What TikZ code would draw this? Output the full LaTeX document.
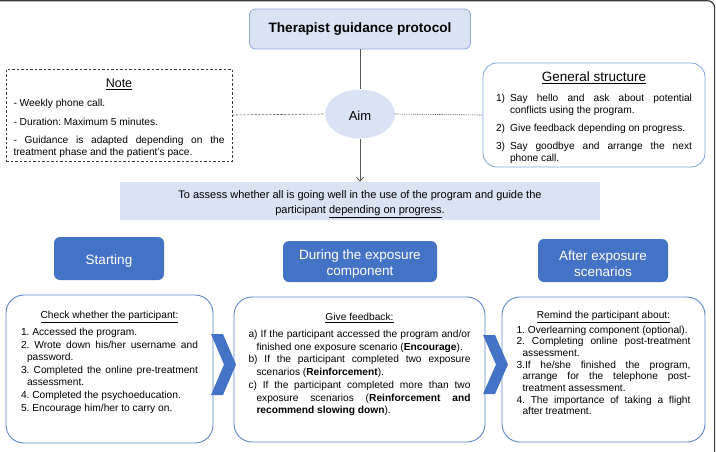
\documentclass[tikz,border=0pt]{standalone}
\usepackage{fontspec}
\setmainfont{Liberation Sans}
\usetikzlibrary{shapes.geometric,arrows.meta}
\definecolor{lightfill}{HTML}{DAE3F3}
\definecolor{titleborder}{HTML}{8FAADC}
\definecolor{hdr}{HTML}{4472C4}
\definecolor{boxline}{HTML}{5B84CB}
\definecolor{gsline}{HTML}{7EA3DA}
\definecolor{framecol}{HTML}{3A3A3A}
\definecolor{conncol}{HTML}{555555}
\newcommand{\bodysetup}[1]{\fontsize{10.2}{#1}\selectfont\frenchspacing\hyphenpenalty=10000 \tolerance=9999 \parindent=0pt \parskip=0pt}
\newcommand{\hitem}[2][6pt]{\par\hangindent=#1\hangafter=1\noindent #2}
\newcommand{\shiftbox}[4]{\parbox[c][#1][c]{#2}{\centering\vspace*{#3}#4\par}}
\tikzset{
  titlebox/.style={fill=lightfill, draw=titleborder, line width=0.8pt, rounded corners=6pt, inner sep=0pt,
    minimum width=221pt, minimum height=40pt, font=\fontsize{13.6}{16}\selectfont\bfseries},
  aimshape/.style={ellipse, fill=lightfill, inner sep=0pt, minimum width=70pt, minimum height=49pt,
    font=\fontsize{13}{16}\selectfont},
  notebox/.style={draw=framecol, dashed, dash pattern=on 2.5pt off 2pt, line width=0.7pt, inner sep=0pt,
    minimum width=226pt, minimum height=92pt},
  gsbox/.style={draw=gsline, line width=0.8pt, rounded corners=14pt, inner sep=0pt,
    minimum width=222pt, minimum height=104pt},
  stmtbox/.style={fill=lightfill, inner sep=0pt, font=\fontsize{11}{15}\selectfont},
  hdrbox/.style={fill=hdr, rounded corners=6pt, text=white, inner sep=0pt,
    font=\fontsize{13.5}{16}\selectfont},
  cbox/.style={draw=boxline, line width=0.9pt, rounded corners=18pt, inner sep=0pt},
  conn/.style={draw=conncol, line width=0.8pt},
  dashconn/.style={draw=conncol, line width=0.6pt, dash pattern=on 2.2pt off 1.5pt},
  dotconn/.style={draw=conncol, line width=0.6pt, dash pattern=on 1.2pt off 1pt},
  chev/.style={fill=hdr, draw=none}
}
\begin{document}
\begin{tikzpicture}[x=1pt,y=-1pt]
\useasboundingbox (0,0) rectangle (716,451);
% outer frame (partly visible)
\draw[framecol, line width=1.2pt, rounded corners=7pt] (-5,0.7) -- (714.6,0.7) -- (714.6,460);

% top part
\node[titlebox] (title) at (360,29) {Therapist guidance protocol};
\node[aimshape] (aim) at (360,114) {\shiftbox{20pt}{40pt}{3pt}{Aim}};
\node[notebox] (note) at (119,115) {\parbox[c][92pt][t]{211pt}{\bodysetup{12}%
  \vspace*{10pt}{\centering\fontsize{12.5}{14}\selectfont\underline{Note}\par}%
  \vspace{7pt}%
  - Weekly phone call.\par\vspace{6.5pt}
  - Duration: Maximum 5 minutes.\par\vspace{6.5pt}
  - Guidance is adapted depending on the\linebreak treatment phase and the patient’s pace.\par}};
\node[gsbox] (gs) at (594,115) {\parbox[c][104pt][t]{196pt}{\bodysetup{12}%
  \vspace*{9pt}{\centering\fontsize{13.5}{15}\selectfont\underline{General structure}\par}%
  \vspace{8pt}%
  \hitem[14pt]{1)\hspace{5pt}Say hello and ask about potential\linebreak conflicts using the program.}\par\vspace{6pt}
  \hitem[14pt]{2)\hspace{5pt}Give feedback depending on progress.}\par\vspace{6pt}
  \hitem[14pt]{3)\hspace{5pt}Say goodbye and arrange the next\linebreak phone call.}\par}};
\node[stmtbox] (stmt) at (360,201) {\shiftbox{38pt}{480pt}{7pt}{To assess whether all is going well in the use of the program and guide the\\
  participant \underline{depending on progress}.}};

\draw[conn] (title.south) -- (aim.north);
\draw[conn, -{Straight Barb[length=4pt,width=7pt]}] (aim.south) -- (stmt.north);
\draw[dashconn] (note.east) -- (aim.west);
\draw[dotconn] (aim.east) -- (gs.west);

% headers
\node[hdrbox] (h1) at (109,258.5) {\shiftbox{43pt}{110pt}{6pt}{Starting}};
\node[hdrbox] (h2) at (360,261.5) {\shiftbox{41pt}{154pt}{6pt}{During the exposure\\component}};
\node[hdrbox] (h3) at (603,260.5) {\shiftbox{43pt}{130pt}{6pt}{After exposure\\scenarios}};

% content boxes
\node[cbox, minimum width=207pt, minimum height=148pt] (b1) at (109.5,369) {\parbox[c][148pt][t]{177pt}{\bodysetup{12.6}%
  \vspace*{16pt}{\centering\underline{Check whether the participant:}\par}%
  \vspace{4.5pt}%
  \hitem{1. Accessed the program.}
  \hitem{2. Wrote down his/her username and\linebreak password.}
  \hitem{3. Completed the online pre-treatment\linebreak assessment.}
  \hitem{4. Completed the psychoeducation.}
  \hitem{5. Encourage him/her to carry on.}\par}};
\node[cbox, minimum width=251pt, minimum height=145pt] (b2) at (359.5,369.5) {\parbox[c][145pt][t]{222pt}{\bodysetup{12.7}%
  \vspace*{16pt}{\centering\underline{Give feedback:}\par}%
  \vspace{4.5pt}%
  \hitem[8pt]{a) If the participant accessed the program and/or\linebreak finished one exposure scenario (\textbf{Encourage}).}
  \hitem[8pt]{b) If the participant completed two exposure\linebreak scenarios (\textbf{Reinforcement}).}
  \hitem[8pt]{c) If the participant completed more than two\linebreak exposure scenarios (\textbf{Reinforcement and\linebreak recommend slowing down}).}\par}};
\node[cbox, minimum width=203pt, minimum height=145pt] (b3) at (603.5,369.5) {\parbox[c][145pt][t]{174pt}{\bodysetup{11.7}%
  \vspace*{14.5pt}{\centering\underline{Remind the participant about:}\par}%
  \vspace{2.5pt}%
  \hitem{1. Overlearning component (optional).}
  \hitem{2. Completing online post-treatment\linebreak assessment.}
  \hitem{3.If he/she finished the program,\linebreak arrange for the telephone post-\linebreak treatment assessment.}
  \hitem{4. The importance of taking a flight\linebreak after treatment.}\par}};

% chevrons
\fill[chev] (211,334) -- (223,334) -- (236,364.5) -- (223,395) -- (211,395) -- (224,364.5) -- cycle;
\fill[chev] (483,335) -- (495,335) -- (508,364.5) -- (495,394) -- (483,394) -- (496,364.5) -- cycle;
\end{tikzpicture}
\end{document}
